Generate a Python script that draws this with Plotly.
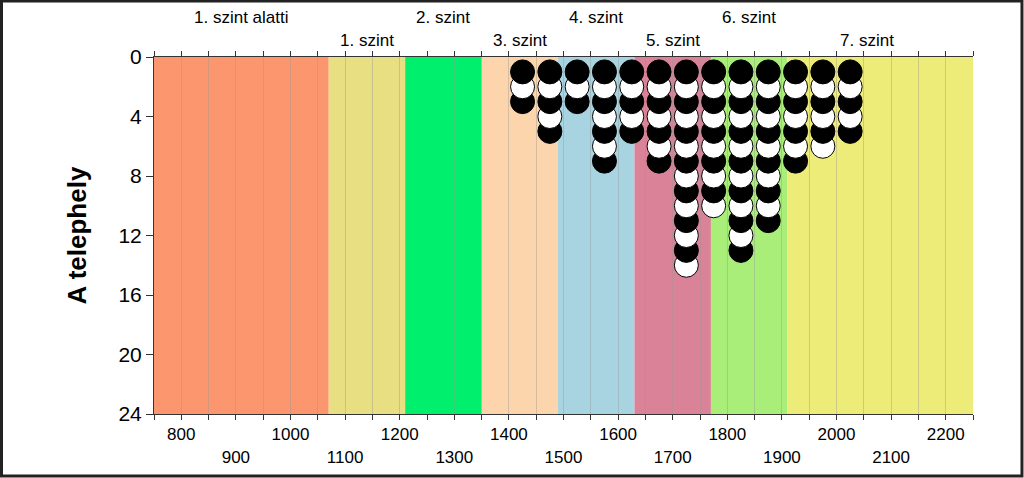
import plotly.graph_objects as go

# ---- data ----
band_names = ["1. szint alatti", "1. szint", "2. szint", "3. szint", "4. szint", "5. szint", "6. szint", "7. szint"]
band_start = [750, 1070, 1210, 1350, 1490, 1630, 1770, 1910]
band_end = [1070, 1210, 1350, 1490, 1630, 1770, 1910, 2250]
band_colors = ["#FC966E", "#E8DE82", "#00F06E", "#FDD5AC", "#A8D4E2", "#DA8297", "#A8EE78", "#EEEC78"]
label_x = [910, 1140, 1280, 1420, 1560, 1700, 1840, 2055]
label_row = [0, 1, 0, 1, 0, 1, 0, 1]  # 0 = upper row, 1 = lower row

col_x = [1425, 1475, 1525, 1575, 1625, 1675, 1725, 1775, 1825, 1875, 1925, 1975, 2025]
col_counts = [3, 5, 3, 7, 5, 7, 14, 10, 13, 11, 7, 6, 5]

x_tickvals = list(range(750, 2251, 50))
y_tickvals = [0, 4, 8, 12, 16, 20, 24]

FONT = "Arial, Liberation Sans, sans-serif"

pts = []
for x, n in zip(col_x, col_counts):
    for k in range(1, n + 1):
        pts.append((x, k, "black" if k % 2 == 1 else "white"))
# upper circles drawn last (on top)
pts.sort(key=lambda p: -p[1])

fig = go.Figure()
fig.add_trace(go.Scatter(x=[p[0] for p in pts], y=[p[1] for p in pts], mode="markers",
                         marker=dict(size=24, color=[p[2] for p in pts],
                                     line=dict(color="black", width=1)),
                         showlegend=False, hoverinfo="x+y"))

for s, e, c in zip(band_start, band_end, band_colors):
    fig.add_shape(type="rect", xref="x", yref="y", x0=s, x1=e, y0=0, y1=24,
                  fillcolor=c, line=dict(width=0), layer="below")

for name, lx, row in zip(band_names, label_x, label_row):
    fig.add_annotation(x=lx, xref="x", y=1.112 if row == 0 else 1.045, yref="paper",
                       text=name, showarrow=False, yanchor="middle", xanchor="center",
                       font=dict(family=FONT, size=17, color="black"))

# outer frame
fig.add_shape(type="rect", xref="paper", yref="paper",
              x0=-0.1862, x1=1.0598, y0=-0.1737, y1=1.1568,
              line=dict(color="#222222", width=3), fillcolor="rgba(0,0,0,0)", layer="above")

ticktext = []
for v in x_tickvals:
    if v % 200 == 0:
        ticktext.append(str(v))
    elif v % 100 == 0:
        ticktext.append("<br>" + str(v))
    else:
        ticktext.append("")

fig.update_xaxes(range=[750, 2250], tickmode="array", tickvals=x_tickvals, ticktext=ticktext,
                 ticks="outside", ticklen=5, tickcolor="#333", showline=True, linecolor="#333",
                 linewidth=1, mirror="ticks", showgrid=True, gridcolor="rgba(150,150,150,0.4)",
                 gridwidth=1, zeroline=False, tickangle=0,
                 tickfont=dict(family=FONT, size=17, color="black"))
fig.update_yaxes(range=[24, 0], tickmode="array", tickvals=y_tickvals,
                 ticks="outside", ticklen=7, tickcolor="#333", showline=True, linecolor="#333",
                 linewidth=1, showgrid=False, zeroline=False,
                 tickfont=dict(family=FONT, size=21, color="black"),
                 title=dict(text="<b>A telephely</b>", font=dict(family=FONT, size=26, color="black"),
                            standoff=24))

fig.update_layout(width=1024, height=478, margin=dict(l=154, r=51, t=57, b=64),
                  paper_bgcolor="white", plot_bgcolor="white", showlegend=False)

fig.write_html("out.html", config={"displayModeBar": False},
               post_script="document.body.style.margin='0';document.body.style.overflow='hidden';")
